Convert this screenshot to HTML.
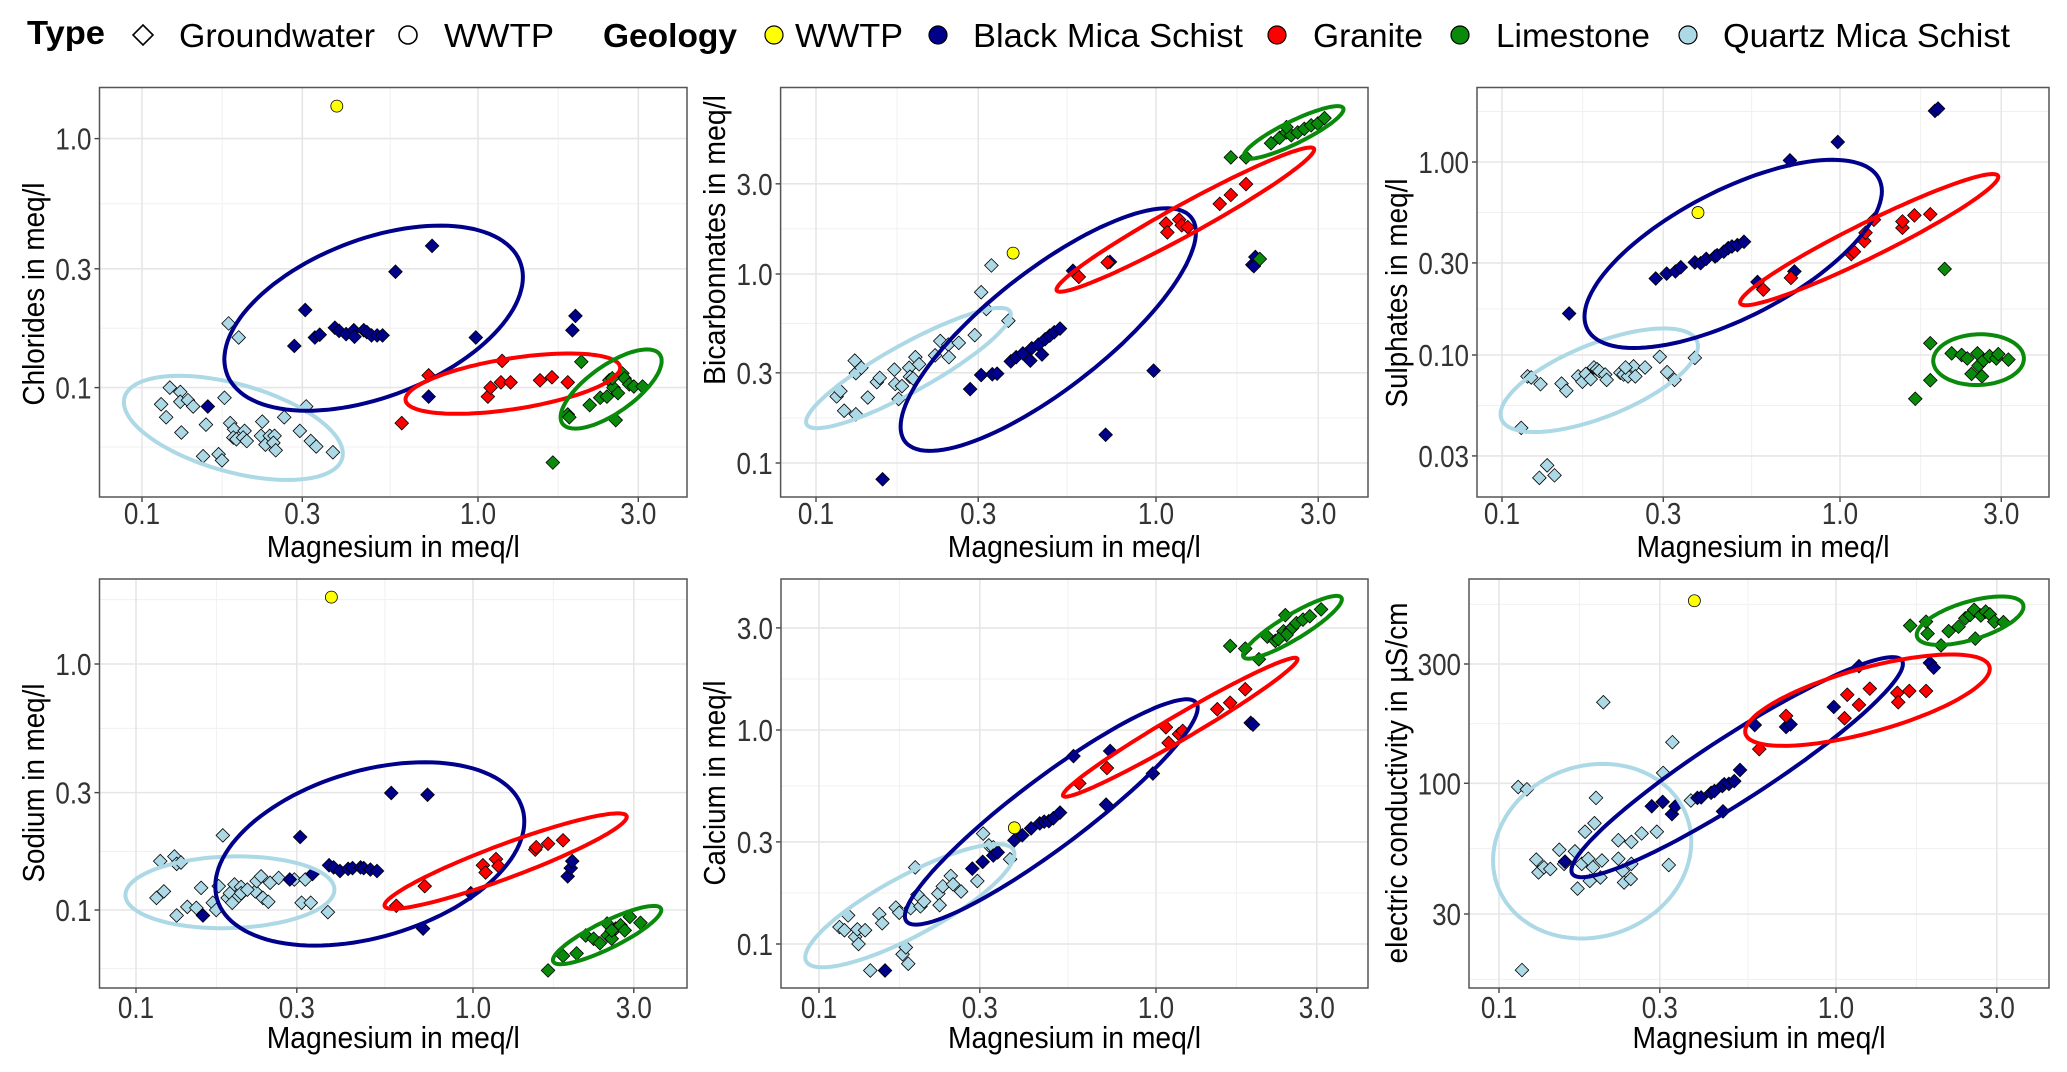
<!DOCTYPE html>
<html><head><meta charset="utf-8"><title>Magnesium scatter panels</title>
<style>
html,body{margin:0;padding:0;background:#fff;}
svg{display:block;font-family:"Liberation Sans",Arial,sans-serif;}
</style></head>
<body>
<svg id="chart" width="2067" height="1072" viewBox="0 0 2067 1072" xmlns="http://www.w3.org/2000/svg">
<rect x="0" y="0" width="2067" height="1072" fill="#fff"/>
<g id="legend" font-size="33" fill="#000">
  <text x="27" y="44" font-weight="bold" textLength="78" lengthAdjust="spacingAndGlyphs">Type</text>
  <path d="M143,25 L153,35 L143,45 L133,35 Z" fill="#fff" stroke="#000" stroke-width="1.6"/>
  <text x="179" y="47" textLength="196" lengthAdjust="spacingAndGlyphs">Groundwater</text>
  <circle cx="408" cy="35" r="9" fill="#fff" stroke="#000" stroke-width="1.6"/>
  <text x="444" y="47" textLength="110" lengthAdjust="spacingAndGlyphs">WWTP</text>
  <text x="603" y="47" font-weight="bold" textLength="134" lengthAdjust="spacingAndGlyphs">Geology</text>
  <circle cx="774" cy="35" r="9" fill="#ffff00" stroke="#000" stroke-width="1.2"/>
  <text x="795" y="47" textLength="108" lengthAdjust="spacingAndGlyphs">WWTP</text>
  <circle cx="938" cy="35" r="9" fill="#00008b" stroke="#000" stroke-width="1.2"/>
  <text x="973" y="47" textLength="270" lengthAdjust="spacingAndGlyphs">Black Mica Schist</text>
  <circle cx="1277" cy="35" r="9" fill="#ff0000" stroke="#000" stroke-width="1.2"/>
  <text x="1313" y="47" textLength="110" lengthAdjust="spacingAndGlyphs">Granite</text>
  <circle cx="1460" cy="35" r="9" fill="#0a8a0a" stroke="#000" stroke-width="1.2"/>
  <text x="1496" y="47" textLength="154" lengthAdjust="spacingAndGlyphs">Limestone</text>
  <circle cx="1688" cy="35" r="9" fill="#add8e6" stroke="#000" stroke-width="1.2"/>
  <text x="1723" y="47" textLength="287" lengthAdjust="spacingAndGlyphs">Quartz Mica Schist</text>
</g>
</svg>
<script>
// ---------- Panel 1: Chlorides ----------
const clQmsX=[0.114,0.121,0.130,0.130,0.137,0.142,0.118,0.131,0.155,0.152,0.169,0.173,0.176,0.183,0.188,0.187,0.191,0.202,0.200,0.205,0.228,0.226,0.233,0.240,0.248,0.246,0.250,0.265,0.295,0.318,0.330,0.370,0.181,0.194,0.308];
const clQmsY=[0.0857,0.100,0.096,0.0877,0.089,0.084,0.076,0.066,0.071,0.053,0.054,0.051,0.091,0.072,0.068,0.063,0.062,0.067,0.063,0.061,0.073,0.064,0.059,0.064,0.064,0.060,0.056,0.076,0.067,0.061,0.058,0.055,0.181,0.159,0.084];
const clBmsX=[0.157,0.284,0.306,0.327,0.338,0.375,0.386,0.405,0.427,0.429,0.457,0.467,0.482,0.501,0.520,0.568,0.730,0.985,0.713,1.95,1.91];
const clBmsY=[0.084,0.147,0.205,0.159,0.163,0.174,0.169,0.164,0.170,0.160,0.170,0.167,0.162,0.162,0.162,0.292,0.371,0.159,0.092,0.194,0.170];
const clGraX=[0.593,0.713,1.07,1.09,1.17,1.18,1.25,1.53,1.66,1.85];
const clGraY=[0.072,0.112,0.092,0.100,0.105,0.128,0.105,0.107,0.110,0.105];
const clLimX=[1.67,2.03,1.85,1.87,2.15,2.31,2.42,2.46,2.53,2.61,2.57,2.69,2.73,2.82,2.91,3.09,2.51];
const clLimY=[0.050,0.127,0.078,0.076,0.085,0.091,0.092,0.107,0.100,0.095,0.074,0.114,0.109,0.103,0.101,0.101,0.109];
const clWwtpX=[0.380], clWwtpY=[1.35];
const clEllCx=[0.187,0.489,1.27,2.49], clEllCy=[0.0689,0.190,0.1037,0.0987];
const clEllRx=[0.396,1.36,2.65,3.52], clEllRy=[0.0543,0.278,0.120,0.128];
const clEllTy=[0.1047,0.409,0.1315,0.1277];
const clTicks=[0.1,0.3,1.0], clTickLabels=["0.1","0.3","1.0"];

// ---------- Panel 2: Bicarbonates ----------
const hcQmsX=[0.130,0.131,0.136,0.115,0.118,0.121,0.131,0.142,0.151,0.154,0.170,0.171,0.179,0.175,0.188,0.189,0.196,0.201,0.224,0.232,0.245,0.246,0.263,0.293,0.306,0.317,0.328,0.368,0.193];
const hcQmsY=[0.348,0.299,0.319,0.225,0.240,0.189,0.181,0.222,0.268,0.282,0.312,0.262,0.255,0.218,0.319,0.286,0.363,0.333,0.371,0.442,0.423,0.363,0.432,0.475,0.801,0.653,1.11,0.566,0.280];
const hcBmsX=[0.157,0.284,0.306,0.330,0.341,0.374,0.388,0.406,0.427,0.431,0.462,0.451,0.472,0.487,0.502,0.522,0.570,0.732,0.711,0.984,1.92,1.96,1.94];
const hcBmsY=[0.082,0.246,0.292,0.295,0.297,0.345,0.363,0.380,0.348,0.405,0.375,0.423,0.452,0.472,0.492,0.514,1.04,1.16,0.141,0.308,1.12,1.23,1.10];
const hcGraX=[0.593,0.721,1.07,1.08,1.17,1.19,1.24,1.54,1.66,1.84];
const hcGraY=[0.966,1.15,1.85,1.66,1.94,1.81,1.77,2.35,2.62,2.99];
const hcLimX=[1.66,1.84,2.02,2.18,2.31,2.42,2.50,2.61,2.73,2.86,2.99,3.13,2.42];
const hcLimY=[4.14,4.14,1.20,4.92,5.26,5.61,5.42,5.61,5.86,6.12,6.25,6.68,5.99];
const hcWwtpX=[0.380], hcWwtpY=[1.29];
const hcEllCx=[0.187,0.482,1.22,2.54], hcEllCy=[0.318,0.508,1.94,5.61];
const hcEllRx=[0.374,1.31,2.92,3.56], hcEllRy=[0.612,1.66,4.55,7.44];
const hcEllTy=[0.442,1.23,2.40,6.53];
const hcTicks=[0.1,0.3,1.0,3.0], hcTickLabels=["0.1","0.3","1.0","3.0"];

// ---------- Panel 3: Sulphates ----------
const soQmsX=[0.114,0.119,0.122,0.130,0.136,0.129,0.143,0.150,0.155,0.168,0.173,0.177,0.183,0.187,0.191,0.194,0.202,0.204,0.224,0.229,0.236,0.245,0.248,0.265,0.293,0.308,0.324,0.372,0.232];
const soQmsY=[0.0419,0.0775,0.0765,0.0706,0.0268,0.0231,0.0238,0.0711,0.0653,0.0775,0.0727,0.0798,0.0750,0.0862,0.0844,0.0826,0.0792,0.0743,0.0809,0.0792,0.0775,0.0873,0.0775,0.0862,0.0979,0.0815,0.0743,0.0966,0.0862];
const soBmsX=[0.158,0.285,0.307,0.326,0.338,0.372,0.387,0.402,0.427,0.433,0.453,0.467,0.479,0.497,0.520,0.570,0.733,0.711,0.985,1.91,1.95];
const soBmsY=[0.164,0.249,0.264,0.271,0.285,0.302,0.299,0.315,0.324,0.329,0.343,0.358,0.365,0.371,0.386,0.239,0.271,1.02,1.27,1.84,1.89];
const soGraX=[0.593,0.716,1.08,1.10,1.18,1.19,1.26,1.53,1.53,1.66,1.85];
const soGraY=[0.218,0.251,0.333,0.343,0.389,0.430,0.502,0.456,0.492,0.529,0.536];
const soLimX=[1.67,1.85,1.85,2.04,2.14,2.29,2.38,2.45,2.55,2.57,2.63,2.66,2.77,2.90,2.94,3.15];
const soLimY=[0.0593,0.0740,0.115,0.279,0.102,0.100,0.0959,0.0798,0.102,0.0881,0.0775,0.0938,0.0987,0.0959,0.101,0.0946];
const soWwtpX=[0.380], soWwtpY=[0.547];
const soEllCx=[0.194,0.483,1.22,2.57], soEllCy=[0.0740,0.334,0.396,0.0946];
const soEllRx=[0.380,1.33,2.94,3.50], soEllRy=[0.111,0.706,0.837,0.0959];
const soEllTy=[0.118,0.771,0.498,0.128];
const soTicks=[0.03,0.1,0.3,1.0], soTickLabels=["0.03","0.10","0.30","1.00"];

// ---------- Panel 4: Sodium ----------
const naQmsX=[0.115,0.121,0.118,0.130,0.132,0.136,0.132,0.142,0.151,0.156,0.169,0.173,0.176,0.181,0.187,0.190,0.193,0.196,0.202,0.205,0.226,0.228,0.235,0.238,0.247,0.250,0.265,0.295,0.310,0.318,0.330,0.371,0.205,0.214];
const naQmsY=[0.112,0.119,0.158,0.165,0.154,0.156,0.095,0.103,0.102,0.123,0.107,0.100,0.125,0.201,0.112,0.117,0.107,0.127,0.114,0.124,0.119,0.131,0.137,0.112,0.108,0.129,0.135,0.133,0.107,0.133,0.107,0.098,0.117,0.121];
const naBmsX=[0.158,0.286,0.307,0.334,0.374,0.386,0.403,0.426,0.439,0.464,0.474,0.496,0.519,0.572,0.733,0.711,0.985,1.91,1.95,1.97];
const naBmsY=[0.095,0.133,0.198,0.140,0.152,0.149,0.144,0.147,0.148,0.149,0.148,0.146,0.144,0.299,0.294,0.084,0.117,0.137,0.148,0.158];
const naGraX=[0.592,0.719,1.07,1.09,1.17,1.19,1.53,1.54,1.67,1.85];
const naGraY=[0.104,0.125,0.152,0.142,0.161,0.151,0.176,0.180,0.186,0.192];
const naLimX=[1.67,1.85,2.03,2.16,2.28,2.38,2.50,2.51,2.58,2.65,2.74,2.82,2.92,3.14,2.58];
const naLimY=[0.0568,0.0651,0.0666,0.0788,0.0764,0.0733,0.0881,0.0788,0.0764,0.084,0.0867,0.0826,0.0938,0.0887,0.0826];
const naWwtpX=[0.380], naWwtpY=[1.87];
const naEllCx=[0.190,0.494,1.25,2.50], naEllCy=[0.118,0.169,0.158,0.0791];
const naEllRx=[0.388,1.42,2.86,3.62], naEllRy=[0.121,0.229,0.239,0.100];
const naEllTy=[0.165,0.377,0.187,0.0909];
const naTicks=[0.1,0.3,1.0], naTickLabels=["0.1","0.3","1.0"];

// ---------- Panel 5: Calcium ----------
const caQmsX=[0.115,0.119,0.122,0.128,0.131,0.130,0.137,0.142,0.151,0.154,0.169,0.173,0.177,0.181,0.184,0.187,0.193,0.196,0.200,0.205,0.226,0.228,0.233,0.246,0.250,0.264,0.295,0.307,0.319,0.329,0.369];
const caQmsY=[0.120,0.116,0.136,0.108,0.100,0.117,0.116,0.0752,0.138,0.125,0.148,0.140,0.0896,0.0964,0.0809,0.147,0.228,0.170,0.150,0.158,0.172,0.152,0.186,0.208,0.190,0.176,0.197,0.328,0.289,0.283,0.249];
const caBmsX=[0.157,0.285,0.306,0.329,0.339,0.380,0.401,0.426,0.452,0.466,0.481,0.496,0.519,0.569,0.731,0.711,0.979,1.91,1.94];
const caBmsY=[0.0752,0.225,0.242,0.259,0.268,0.305,0.322,0.347,0.366,0.373,0.375,0.387,0.411,0.755,0.798,0.448,0.626,1.08,1.06];
const caGraX=[0.592,0.715,1.07,1.09,1.17,1.20,1.52,1.66,1.84];
const caGraY=[0.563,0.664,1.03,0.871,0.957,0.99,1.25,1.34,1.55];
const caLimX=[1.66,1.84,2.02,2.14,2.26,2.39,2.42,2.50,2.53,2.61,2.73,2.86,3.09,2.44,2.31];
const caLimY=[2.47,2.40,2.14,2.73,2.61,2.89,3.44,2.94,2.99,3.16,3.28,3.40,3.66,2.78,2.66];
const caWwtpX=[0.380], caWwtpY=[0.349];
const caEllCx=[0.186,0.489,1.18,2.54], caEllCy=[0.151,0.414,1.03,3.02];
const caEllRx=[0.380,1.33,2.63,3.56], caEllRy=[0.263,1.27,2.14,4.08];
const caEllTy=[0.217,0.657,1.20,3.52];
const caTicks=[0.1,0.3,1.0,3.0], caTickLabels=["0.1","0.3","1.0","3.0"];

// ---------- Panel 6: Electric conductivity ----------
const ecQmsX=[0.114,0.121,0.117,0.129,0.131,0.136,0.142,0.151,0.156,0.168,0.171,0.176,0.180,0.184,0.186,0.190,0.192,0.194,0.200,0.202,0.204,0.226,0.226,0.233,0.235,0.246,0.247,0.247,0.265,0.294,0.307,0.319,0.327,0.371];
const ecQmsY=[96.6,94.6,17.9,49.5,44.0,46.1,45.4,54.2,47.6,53.4,37.9,47.6,64.0,49.9,40.7,46.1,69.2,87.4,42.0,49.1,211,59.2,49.9,44.7,40.1,41.4,58.3,47.6,63.0,64.0,110,47.1,146,85.3];
const ecBmsX=[0.157,0.284,0.306,0.326,0.334,0.388,0.398,0.426,0.436,0.460,0.466,0.481,0.499,0.519,0.574,0.711,0.733,0.985,1.17,1.90,1.95,0.462];
const ecBmsY=[48.6,80.9,84.3,75.3,80.9,87.4,87.8,91.6,93.1,97.5,99.1,99.5,102,113,171,168,172,202,294,303,290,77.2];
const ecGraX=[0.592,0.711,1.06,1.08,1.17,1.26,1.52,1.53,1.65,1.85];
const ecGraY=[137,186,182,226,206,239,230,211,234,234];
const ecLimX=[1.66,1.85,1.87,2.05,2.16,2.31,2.42,2.50,2.57,2.59,2.69,2.78,2.86,2.95,3.14];
const ecLimY=[427,443,397,356,406,423,457,471,494,379,469,486,474,443,441];
const ecWwtpX=[0.380], ecWwtpY=[537];
const ecEllCx=[0.189,0.509,1.24,2.50], ecEllCy=[53.5,116,215,447];
const ecEllRx=[0.372,1.58,2.86,3.60], ecEllRy=[58.3,300,287,509];
const ecEllTy=[119,165,292,536];
const ecTicks=[30,100,300], ecTickLabels=["30","100","300"];

const xTicks=[0.1,0.3,1.0,3.0], xTickLabels=["0.1","0.3","1.0","3.0"];
const groupNames=["quartz-mica-schist","black-mica-schist","granite","limestone"];
const groupColors=["#add8e6","#00008b","#ff0000","#0a8a0a"];

const NS="http://www.w3.org/2000/svg";
const svg=document.getElementById("chart");
function mk(tag,attrs,parent){const e=document.createElementNS(NS,tag);for(const k in attrs)e.setAttribute(k,attrs[k]);(parent||svg).appendChild(e);return e;}
function labelWidth(s){let w=0;for(const ch of s)w+=(ch==="."?0.278:0.556);return w*26;}

const panels=[
 {key:"chlorides",title:"Chlorides in meq/l",box:[99.5,87.5,687,497],x1:478,xd:336,yRef:1,yRefPx:138.6,yd:249,ticks:clTicks,labels:clTickLabels,titleX:44,titleY:294,titleLen:223,tickY:524,xTitleY:557,
  groups:[[clQmsX,clQmsY],[clBmsX,clBmsY],[clGraX,clGraY],[clLimX,clLimY]],wwtp:[clWwtpX,clWwtpY],ell:[clEllCx,clEllCy,clEllRx,clEllRy,clEllTy]},
 {key:"bicarbonates",title:"Bicarbonnates in meq/l",box:[780.6,87.5,1368,497],x1:1156,xd:340,yRef:1,yRefPx:274,yd:189,ticks:hcTicks,labels:hcTickLabels,titleX:725,titleY:240,titleLen:290,tickY:524,xTitleY:557,
  groups:[[hcQmsX,hcQmsY],[hcBmsX,hcBmsY],[hcGraX,hcGraY],[hcLimX,hcLimY]],wwtp:[hcWwtpX,hcWwtpY],ell:[hcEllCx,hcEllCy,hcEllRx,hcEllRy,hcEllTy]},
 {key:"sulphates",title:"Sulphates in meq/l",box:[1477,87.5,2049,497],x1:1840,xd:338,yRef:1,yRefPx:162,yd:193,ticks:soTicks,labels:soTickLabels,titleX:1407,titleY:293,titleLen:229,tickY:524,xTitleY:557,
  groups:[[soQmsX,soQmsY],[soBmsX,soBmsY],[soGraX,soGraY],[soLimX,soLimY]],wwtp:[soWwtpX,soWwtpY],ell:[soEllCx,soEllCy,soEllRx,soEllRy,soEllTy]},
 {key:"sodium",title:"Sodium in meq/l",box:[99.5,579,687,988],x1:473,xd:337,yRef:1,yRefPx:664,yd:246,ticks:naTicks,labels:naTickLabels,titleX:44,titleY:783,titleLen:199,tickY:1018,xTitleY:1048,
  groups:[[naQmsX,naQmsY],[naBmsX,naBmsY],[naGraX,naGraY],[naLimX,naLimY]],wwtp:[naWwtpX,naWwtpY],ell:[naEllCx,naEllCy,naEllRx,naEllRy,naEllTy]},
 {key:"calcium",title:"Calcium in meq/l",box:[781,579,1368,988],x1:1156,xd:337,yRef:1,yRefPx:730,yd:214,ticks:caTicks,labels:caTickLabels,titleX:725,titleY:783,titleLen:205,tickY:1018,xTitleY:1048,
  groups:[[caQmsX,caQmsY],[caBmsX,caBmsY],[caGraX,caGraY],[caLimX,caLimY]],wwtp:[caWwtpX,caWwtpY],ell:[caEllCx,caEllCy,caEllRx,caEllRy,caEllTy]},
 {key:"conductivity",title:"electric conductivity in µS/cm",box:[1469,579,2049,988],x1:1836,xd:337,yRef:300,yRefPx:664,yd:250,ticks:ecTicks,labels:ecTickLabels,titleX:1407,titleY:783,titleLen:361,tickY:1018,xTitleY:1048,
  groups:[[ecQmsX,ecQmsY],[ecBmsX,ecBmsY],[ecGraX,ecGraY],[ecLimX,ecLimY]],wwtp:[ecWwtpX,ecWwtpY],ell:[ecEllCx,ecEllCy,ecEllRx,ecEllRy,ecEllTy]}
];

panels.forEach(p=>{
  const xs=v=>p.x1+Math.log10(v)*p.xd;
  const ys=v=>p.yRefPx-(Math.log10(v)-Math.log10(p.yRef))*p.yd;
  const [L,T,R,B]=p.box;
  const g=mk("g",{});
  
  
  const clipId="clip-"+p.key;
  const cp=mk("clipPath",{id:clipId},g);
  mk("rect",{x:L,y:T,width:R-L,height:B-T},cp);
  const grid=mk("g",{},g);
  
  
  function minors(ticks){const l=ticks.map(Math.log10);const out=[];const n=l.length;
    out.push(l[0]-(l[1]-l[0])/2);for(let i=0;i<n-1;i++)out.push((l[i]+l[i+1])/2);out.push(l[n-1]+(l[n-1]-l[n-2])/2);return out.map(v=>Math.pow(10,v));}
  minors(xTicks).forEach(v=>{const x=xs(v);if(x>L&&x<R){const ln=mk("line",{x1:x,x2:x,y1:T,y2:B,stroke:"#f0f0f0","stroke-width":1},grid);
    }});
  minors(p.ticks).forEach(v=>{const y=ys(v);if(y>T&&y<B){const ln=mk("line",{x1:L,x2:R,y1:y,y2:y,stroke:"#f0f0f0","stroke-width":1},grid);
    }});
  xTicks.forEach((v,i)=>{const x=xs(v);
    const ln=mk("line",{x1:x,x2:x,y1:T,y2:B,stroke:"#e6e6e6","stroke-width":1.6},grid);
    
    const tk=mk("line",{x1:x,x2:x,y1:B,y2:B+5,stroke:"#444","stroke-width":1.4},g);
    
    const t=mk("text",{x:x,y:p.tickY,"text-anchor":"middle","font-size":31,fill:"#333",textLength:labelWidth(xTickLabels[i]),lengthAdjust:"spacingAndGlyphs"},g);
    t.textContent=xTickLabels[i];
    });
  p.ticks.forEach((v,i)=>{const y=ys(v);
    const ln=mk("line",{x1:L,x2:R,y1:y,y2:y,stroke:"#e6e6e6","stroke-width":1.6},grid);
    
    const tk=mk("line",{x1:L-5,x2:L,y1:y,y2:y,stroke:"#444","stroke-width":1.4},g);
    
    const t=mk("text",{x:L-8,y:y+11,"text-anchor":"end","font-size":31,fill:"#333",textLength:labelWidth(p.labels[i]),lengthAdjust:"spacingAndGlyphs"},g);
    t.textContent=p.labels[i];
    });
  const marks=mk("g",{"clip-path":"url(#"+clipId+")"},g);
  
  
  p.groups.forEach((gr,gi)=>{
    gr[0].forEach((xv,i)=>{const cx=xs(xv),cy=ys(gr[1][i]);const h=6.8;
      const d=mk("path",{d:`M${cx},${cy-h} L${cx+h},${cy} L${cx},${cy+h} L${cx-h},${cy} Z`,fill:groupColors[gi],stroke:"#000","stroke-width":0.8},marks);
      
      });
  });
  p.wwtp[0].forEach((xv,i)=>{const c=mk("circle",{cx:xs(xv),cy:ys(p.wwtp[1][i]),r:6,fill:"#ffff00",stroke:"#000","stroke-width":0.8},marks);
    
    });
  const [ecx,ecy,erx,ery,ety]=p.ell;
  ecx.forEach((cxv,i)=>{
    const c=[xs(cxv),ys(ecy[i])];
    const a=[xs(erx[i])-c[0],ys(ery[i])-c[1]];
    const b=[0,ys(ety[i])-c[1]];
    let d="";for(let k=0;k<=120;k++){const t=k/120*2*Math.PI;
      const px=c[0]+a[0]*Math.cos(t)+b[0]*Math.sin(t), py=c[1]+a[1]*Math.cos(t)+b[1]*Math.sin(t);
      d+=(k?"L":"M")+px.toFixed(1)+","+py.toFixed(1);}
    const e=mk("path",{d:d+"Z",fill:"none",stroke:groupColors[i],"stroke-width":4},marks);
    
    
  });
  const border=mk("rect",{x:L,y:T,width:R-L,height:B-T,fill:"none",stroke:"#555","stroke-width":1.5},g);
  
  
  const xt=mk("text",{x:(L+R)/2,y:p.xTitleY,"text-anchor":"middle","font-size":31,fill:"#000",textLength:253,lengthAdjust:"spacingAndGlyphs"},g);
  xt.textContent="Magnesium in meq/l";
  
  
  const yt=mk("text",{x:0,y:0,"text-anchor":"middle","font-size":31,fill:"#000",transform:`translate(${p.titleX},${p.titleY}) rotate(-90)`,textLength:p.titleLen,lengthAdjust:"spacingAndGlyphs"},g);
  yt.textContent=p.title;
  
  
});
</script>
</body></html>
